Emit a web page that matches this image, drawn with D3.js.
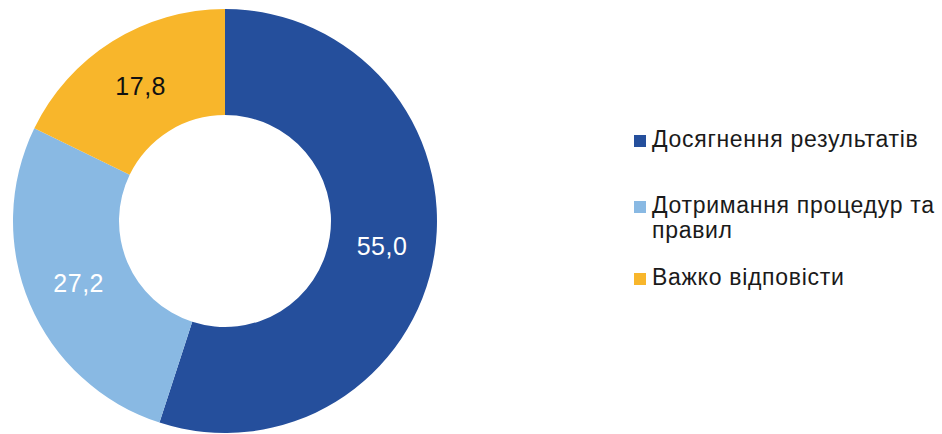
<!DOCTYPE html>
<html>
<head>
<meta charset="utf-8">
<script src="https://cdn.jsdelivr.net/npm/d3@7"></script>
<style>
  body { margin: 0; background: #fff; }
  svg { display: block; font-family: "Liberation Sans", Arial, sans-serif; }
</style>
</head>
<body>
<svg id="chart"></svg>
<script>
const categories = ["Досягнення результатів", "Дотримання процедур та правил", "Важко відповісти"];
const values = [55.0, 27.2, 17.8];
const labels = ["55,0", "27,2", "17,8"];
const legendLines = [["Досягнення результатів"], ["Дотримання процедур та", "правил"], ["Важко відповісти"]];

const width = 942, height = 434;
const svg = d3.select("#chart").attr("width", width).attr("height", height);

const colors = d3.scaleOrdinal().domain(categories).range(["#254f9c", "#89b9e3", "#f8b62b"]);
const labelColors = ["#ffffff", "#ffffff", "#111111"];

const cx = 225, cy = 221, rOuter = 212, rInner = 106;

const pie = d3.pie().sort(null).value(d => d.value);
const arc = d3.arc().innerRadius(rInner).outerRadius(rOuter);
const data = categories.map((c, i) => ({ name: c, value: values[i], label: labels[i], i }));
const arcs = pie(data);

const g = svg.append("g").attr("transform", `translate(${cx},${cy})`);

g.selectAll("path")
  .data(arcs)
  .join("path")
  .attr("d", arc)
  .attr("fill", d => colors(d.data.name));

g.selectAll("text")
  .data(arcs)
  .join("text")
  .attr("transform", d => `translate(${arc.centroid(d)})`)
  .attr("text-anchor", "middle")
  .attr("dy", "0.36em")
  .attr("font-size", 25)
  .attr("letter-spacing", 0.5)
  .attr("fill", d => labelColors[d.data.i])
  .text(d => d.data.label);

// Legend
const legendY = [147, 213, 285];
const legend = svg.append("g");
categories.forEach((c, i) => {
  const item = legend.append("g").attr("transform", `translate(634,${legendY[i]})`);
  item.append("rect")
    .attr("x", 0).attr("y", -12)
    .attr("width", 12).attr("height", 12)
    .attr("fill", colors(c));
  const t = item.append("text")
    .attr("x", 18).attr("y", 0)
    .attr("font-size", 23)
    .attr("letter-spacing", 0.7)
    .attr("fill", "#1a1a1a");
  legendLines[i].forEach((line, k) => {
    t.append("tspan").attr("x", 18).attr("dy", k === 0 ? 0 : 25).text(line);
  });
});
</script>
</body>
</html>
